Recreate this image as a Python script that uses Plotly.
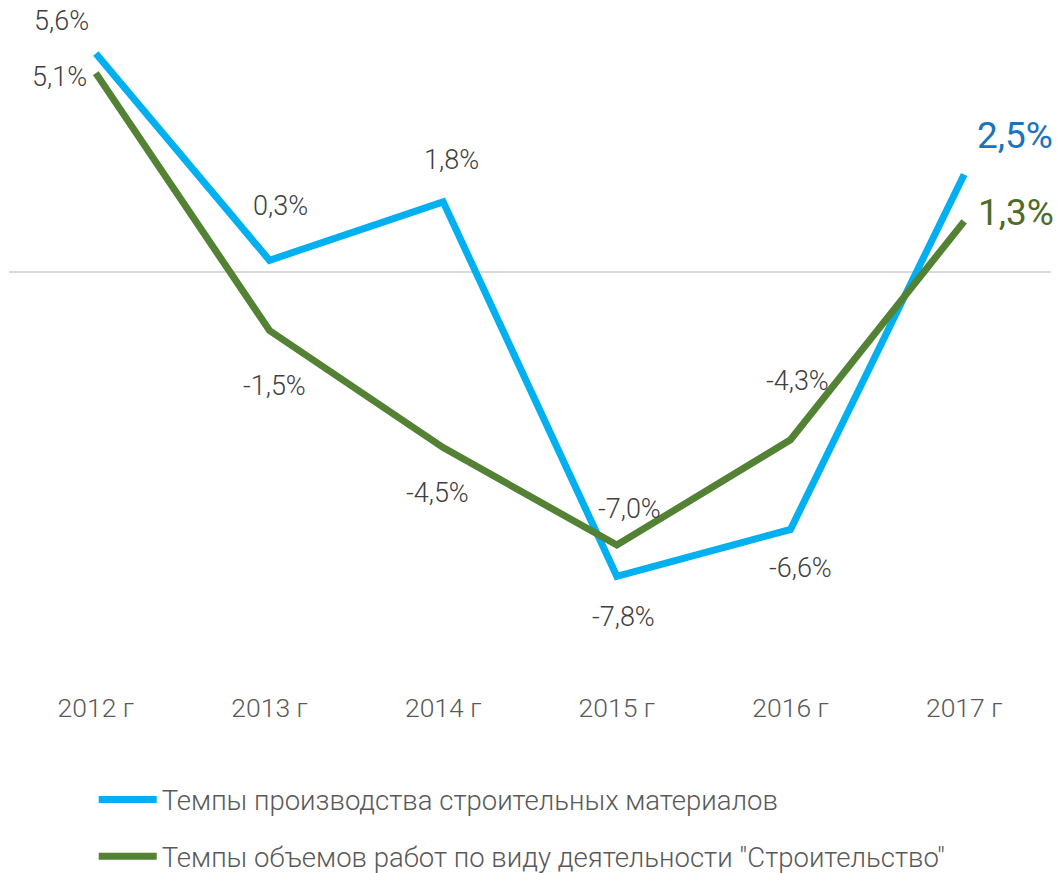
import plotly.graph_objects as go

years = ["2012 г", "2013 г", "2014 г", "2015 г", "2016 г", "2017 г"]
materials = [5.6, 0.3, 1.8, -7.8, -6.6, 2.5]
construction = [5.1, -1.5, -4.5, -7.0, -4.3, 1.3]
name_materials = "Темпы производства строительных материалов"
name_construction = "Темпы объемов работ по виду деятельности \"Строительство\""

blue = "#00b0f0"
green = "#548235"
label_grey = "#404040"

# label offsets in pixels (style only)
mat_shift = [(-34, 33), (11, 54), (8, 42), (7, -41), (10, -39), (51, 39)]
con_shift = [(-36, -4), (5, -55), (-6, -45), (13, 36), (7, 59), (52, 9)]

def fmt(v):
    return f"{v:.1f}".replace(".", ",") + "%"

fig = go.Figure()
fig.add_trace(go.Scatter(x=years, y=materials, mode="lines", name=name_materials,
                         line=dict(color=blue, width=7), legendgroup="a", hoverinfo="skip"))
fig.add_trace(go.Scatter(x=years, y=construction, mode="lines", name=name_construction,
                         line=dict(color=green, width=7), legendgroup="b", hoverinfo="skip"))

anns = []
for i, (yr, v) in enumerate(zip(years, materials)):
    last = i == len(years) - 1
    anns.append(dict(x=yr, y=v, text=fmt(v), showarrow=False,
                     xshift=mat_shift[i][0], yshift=mat_shift[i][1],
                     font=dict(family="Roboto", size=37 if last else 27,
                               color="#1a74bd" if last else label_grey,
                               weight=400 if last else 300)))
for i, (yr, v) in enumerate(zip(years, construction)):
    last = i == len(years) - 1
    anns.append(dict(x=yr, y=v, text=fmt(v), showarrow=False,
                     xshift=con_shift[i][0], yshift=con_shift[i][1],
                     font=dict(family="Roboto", size=37 if last else 27,
                               color="#4f6b28" if last else label_grey,
                               weight=400 if last else 300)))

fig.update_layout(
    width=1058, height=873,
    margin=dict(l=9, r=7, t=6, b=184),
    paper_bgcolor="white", plot_bgcolor="white",
    font=dict(family="Roboto", size=25, color="#595959", weight=300),
    annotations=anns,
    xaxis=dict(range=[-0.5, 5.5], showgrid=False, showline=False, ticks="", zeroline=False,
               tickfont=dict(size=26.5, color="#595959")),
    yaxis=dict(range=[-10.69, 6.82], showgrid=False, showticklabels=False,
               zeroline=True, zerolinecolor="#d9d9d9", zerolinewidth=1.5,
               showline=False, ticks=""),
    legend=dict(x=0.0813, xanchor="left", xref="paper",
                y=0.112, yanchor="top", yref="container",
                orientation="v", traceorder="grouped", tracegroupgap=18,
                itemwidth=58,
                font=dict(family="Roboto", size=27.5, color="#595959", weight=300)),
    showlegend=True,
)

fig.write_html("out.html", config={"displayModeBar": False},
               post_script="document.body.style.margin='0';document.body.style.overflow='hidden';")
